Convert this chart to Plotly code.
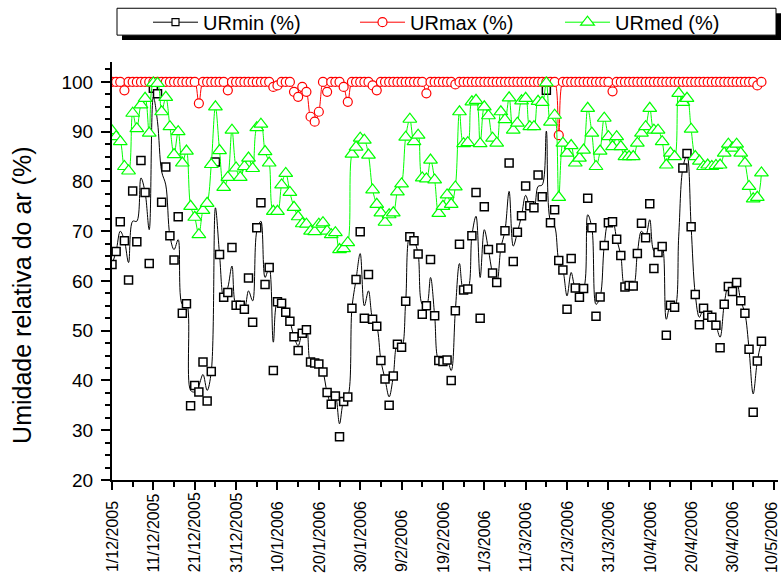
import plotly.graph_objects as go
import pandas as pd

start = pd.Timestamp("2005-12-01")
n_days = 158
dates = [start + pd.Timedelta(days=i) for i in range(n_days)]

# URmin (%) - daily markers
urmin = [63.3, 65.9, 71.9, 68.1, 60.2, 78.1, 67.9, 84.2, 77.8, 63.5,
         98.7, 97.6, 75.8, 82.9, 69.1, 64.2, 72.9, 53.5, 55.4, 34.9,
         39.0, 37.7, 43.7, 35.9, 41.8, 83.9, 65.3, 56.7, 57.7, 66.7,
         55.1, 55.1, 54.3, 60.6, 51.7, 70.7, 75.7, 59.3, 62.7, 42.0,
         55.8, 55.5, 53.7, 51.9, 48.8, 46.0, 49.5, 50.2, 43.7, 43.5,
         43.3, 41.7, 37.6, 35.2, 36.9, 28.7, 35.8, 36.7, 54.5, 60.3,
         69.9, 52.5, 61.3, 52.3, 50.9, 44.0, 40.3, 35.0, 40.9, 47.3,
         46.7, 55.9, 68.9, 68.1, 65.4, 53.3, 55.0, 64.3, 53.0, 44.0,
         43.8, 44.1, 40.0, 54.0, 67.4, 58.2, 58.4, 69.1, 77.8, 52.5,
         74.9, 66.3, 61.6, 59.7, 66.6, 70.1, 83.7, 63.9, 69.8, 73.1,
         79.1, 75.1, 74.7, 81.3, 76.9, 98.3, 71.7, 74.3, 64.1, 62.2,
         54.3, 64.5, 58.6, 56.7, 58.5, 76.6, 70.7, 52.9, 56.8, 67.1,
         71.7, 71.9, 68.4, 65.1, 58.8, 59.1, 59.0, 65.5, 71.6, 68.7,
         75.5, 62.5, 65.7, 66.9, 49.1, 55.1, 54.7, None, 82.7, 85.6,
         70.9, 57.3, 51.2, 54.5, 53.1, 52.7, 51.1, 46.6, 55.3, 58.9,
         57.9, 59.7, 56.0, 53.5, 46.3, 33.6, 43.9, 47.9]

# URmin (%) - values followed by the spline curve
urmin_curve = [63.3, 66.0, 70.0, 68.1, 63.7, 72.0, 72.0, 80.7, 77.8, 70.3,
               97.0, 92.0, 82.0, 79.3, 69.1, 66.3, 68.3, 55.3, 55.4, 38.0,
               37.7, 39.0, 41.2, 38.0, 41.8, 74.7, 65.3, 56.7, 58.7, 63.0,
               55.1, 55.1, 54.5, 58.0, 56.0, 70.0, 72.0, 60.7, 62.7, 47.7,
               55.8, 55.5, 53.7, 51.9, 48.8, 47.0, 49.5, 50.2, 43.7, 43.5,
               43.3, 41.7, 37.6, 35.2, 36.9, 31.3, 35.8, 36.7, 54.5, 60.3,
               65.5, 55.0, 58.0, 52.3, 50.9, 44.0, 40.3, 36.7, 40.9, 47.3,
               46.7, 55.9, 68.9, 68.1, 65.4, 55.3, 55.0, 60.7, 53.0, 44.0,
               43.8, 44.1, 42.0, 54.0, 63.5, 58.2, 58.4, 69.1, 73.0, 60.7,
               70.3, 66.3, 61.6, 59.7, 66.6, 70.1, 78.0, 67.0, 69.8, 73.1,
               77.2, 75.1, 74.7, 79.0, 79.3, 90.1, 72.0, 71.0, 64.1, 62.2,
               57.0, 61.7, 58.6, 58.0, 58.5, 73.3, 70.7, 55.3, 56.8, 67.1,
               71.7, 71.9, 68.4, 65.1, 58.8, 59.1, 59.0, 65.5, 70.0, 69.0,
               72.3, 66.0, 65.7, 66.9, 52.3, 55.1, 54.7, 69.0, 82.7, 85.3,
               70.9, 57.3, 52.7, 54.5, 53.1, 52.7, 51.1, 48.7, 55.3, 58.9,
               57.9, 59.7, 56.0, 53.5, 46.3, 37.3, 43.9, 47.9]

# URmax (%)
urmax_dips = {3: 98.3, 21: 95.7, 28: 98.3, 39: 99.0, 40: 99.3, 44: 98.0,
              45: 97.0, 46: 99.0, 47: 98.0, 48: 93.0, 49: 92.0, 50: 94.0,
              52: 98.0, 56: 99.0, 57: 96.0, 63: 99.3, 64: 98.3, 76: 97.7,
              83: 99.5, 108: 89.3, 121: 98.1, 156: 99.3}
urmax = [urmax_dips.get(i, 100.0) for i in range(n_days)]

# URmed (%)
urmed = [90.2, 89.0, 88.0, 83.0, 82.1, 93.7, 90.6, 95.4, 96.7, 89.7,
         99.8, 99.7, 94.0, 96.9, 91.0, 85.4, 90.0, 83.7, 86.1, 75.0,
         72.8, 69.3, 74.2, 75.6, 83.4, 95.0, 86.2, 78.8, 80.8, 90.3,
         82.7, 80.8, 83.0, 84.7, 82.6, 90.8, 91.5, 86.0, 83.7, 74.0,
         74.0, 79.3, 81.6, 77.8, 74.8, 72.9, 71.5, 71.4, 70.0, 69.9,
         71.4, 71.7, 70.0, 69.3, 69.7, 66.3, 66.5, 67.7, 85.5, 86.9,
         88.7, 88.3, 85.3, 78.3, 75.4, 73.7, 71.8, 73.3, 73.7, 77.9,
         79.5, 88.9, 92.5, 88.0, 89.3, 80.7, 80.5, 84.3, 80.3, 73.6,
         75.0, 77.3, 75.4, 78.9, 94.0, 87.6, 87.8, 96.0, 96.3, 87.6,
         95.0, 93.2, 88.7, 87.7, 94.0, 92.4, 96.8, 90.3, 91.7, 96.2,
         96.7, 91.0, 91.0, 96.1, 95.9, 99.8, 91.9, 93.3, 76.8, 87.7,
         85.7, 87.2, 83.7, 84.7, 86.3, 94.7, 89.7, 83.0, 86.1, 92.7,
         89.0, 87.0, 89.0, 87.0, 85.0, 85.0, 85.0, 87.7, 89.7, 91.0,
         94.7, 90.3, 90.3, 88.0, 83.3, 85.7, 85.0, 97.7, 95.9, 96.7,
         90.5, 85.0, 84.1, 83.0, 83.3, 83.0, 83.2, 83.3, 85.7, 87.5,
         86.7, 87.5, 85.7, 83.7, 79.0, 76.5, 76.8, 81.7]

tick_dates = [start + pd.Timedelta(days=10 * k) for k in range(17)]
tick_labels = [f"{d.day}/{d.month}/{d.year}" for d in tick_dates]

FONT = "Liberation Sans, Arial, sans-serif"

fig = go.Figure()

fig.add_trace(go.Scatter(x=dates, y=urmin_curve, mode="lines",
                         line=dict(color="black", width=1, shape="spline", smoothing=1.0),
                         showlegend=False, hoverinfo="skip"))
fig.add_trace(go.Scatter(x=dates, y=urmin, mode="markers",
                         marker=dict(symbol="square", size=8, color="white",
                                     line=dict(color="black", width=1.5)),
                         showlegend=False))
fig.add_trace(go.Scatter(x=[None], y=[None], mode="lines+markers", name="URmin (%)",
                         legend="legend",
                         line=dict(color="black", width=1),
                         marker=dict(symbol="square", size=7, color="white",
                                     line=dict(color="black", width=1.2))))
fig.add_trace(go.Scatter(x=dates, y=urmax, mode="lines+markers", name="URmax (%)",
                         legend="legend2",
                         line=dict(color="#ff0000", width=1, shape="spline", smoothing=1.0),
                         marker=dict(symbol="circle", size=9, color="white",
                                     line=dict(color="#ff0000", width=1.2))))
fig.add_trace(go.Scatter(x=dates, y=urmed, mode="lines+markers", name="URmed (%)",
                         legend="legend3",
                         line=dict(color="#00ff00", width=1, shape="spline", smoothing=1.0),
                         marker=dict(symbol="triangle-up", size=12, color="white",
                                     line=dict(color="#00ff00", width=1.2))))

for i, (d, lab) in enumerate(zip(tick_dates, tick_labels)):
    fig.add_annotation(x=d, y=-95 / 420, xref="x", yref="paper", text=lab,
                       textangle=-90, showarrow=False, xanchor="center", yanchor="bottom",
                       xshift=-3 if i == len(tick_dates) - 1 else 0,
                       font=dict(family=FONT, size=16, color="black"))

# y axis title
fig.add_annotation(x=(22 - 112) / 666, y=(480 - 295) / 420, xref="paper", yref="paper",
                   text="Umidade relativa do ar (%)", textangle=-90, showarrow=False,
                   xanchor="center", yanchor="middle",
                   font=dict(family=FONT, size=25, color="black"))

# legend frame with shadow
fig.add_shape(type="rect", xref="paper", yref="paper", x0=10 / 666, x1=669 / 666,
              y0=442 / 420, y1=469 / 420, fillcolor="black", line=dict(width=0))
fig.add_shape(type="rect", xref="paper", yref="paper", x0=5 / 666, x1=664 / 666,
              y0=447 / 420, y1=474 / 420, fillcolor="white", line=dict(color="black", width=1))


def leg(px):
    return dict(orientation="h", x=(px - 112) / 666, y=460 / 420, xanchor="left",
                yanchor="middle", bgcolor="rgba(0,0,0,0)", borderwidth=0,
                font=dict(size=20, family=FONT), itemwidth=45)


fig.update_layout(
    width=781, height=577,
    margin=dict(l=112, r=3, t=60, b=97),
    paper_bgcolor="white", plot_bgcolor="white",
    font=dict(family=FONT, color="black"),
    showlegend=True,
    legend=leg(148), legend2=leg(355), legend3=leg(560),
    xaxis=dict(type="date", range=[start, start + pd.Timedelta(days=161)],
               showgrid=False, zeroline=False, showline=True, linecolor="black", linewidth=2,
               ticks="outside", ticklen=8, tickwidth=2, tickcolor="black",
               tick0=start, dtick=10 * 86400000, showticklabels=False,
               minor=dict(ticks="outside", ticklen=5, tickwidth=2, tickcolor="black",
                          dtick=5 * 86400000, tick0=start)),
    yaxis=dict(range=[20, 104], showgrid=False, zeroline=False, showline=True,
               linecolor="black", linewidth=2, ticks="outside", ticklen=9, tickwidth=2,
               tickcolor="black", tick0=20, dtick=10, ticklabelstandoff=4,
               tickfont=dict(size=19, family=FONT),
               minor=dict(ticks="outside", ticklen=5, tickwidth=2, tickcolor="black", dtick=2.5)),
)

fig.write_html("out.html")
